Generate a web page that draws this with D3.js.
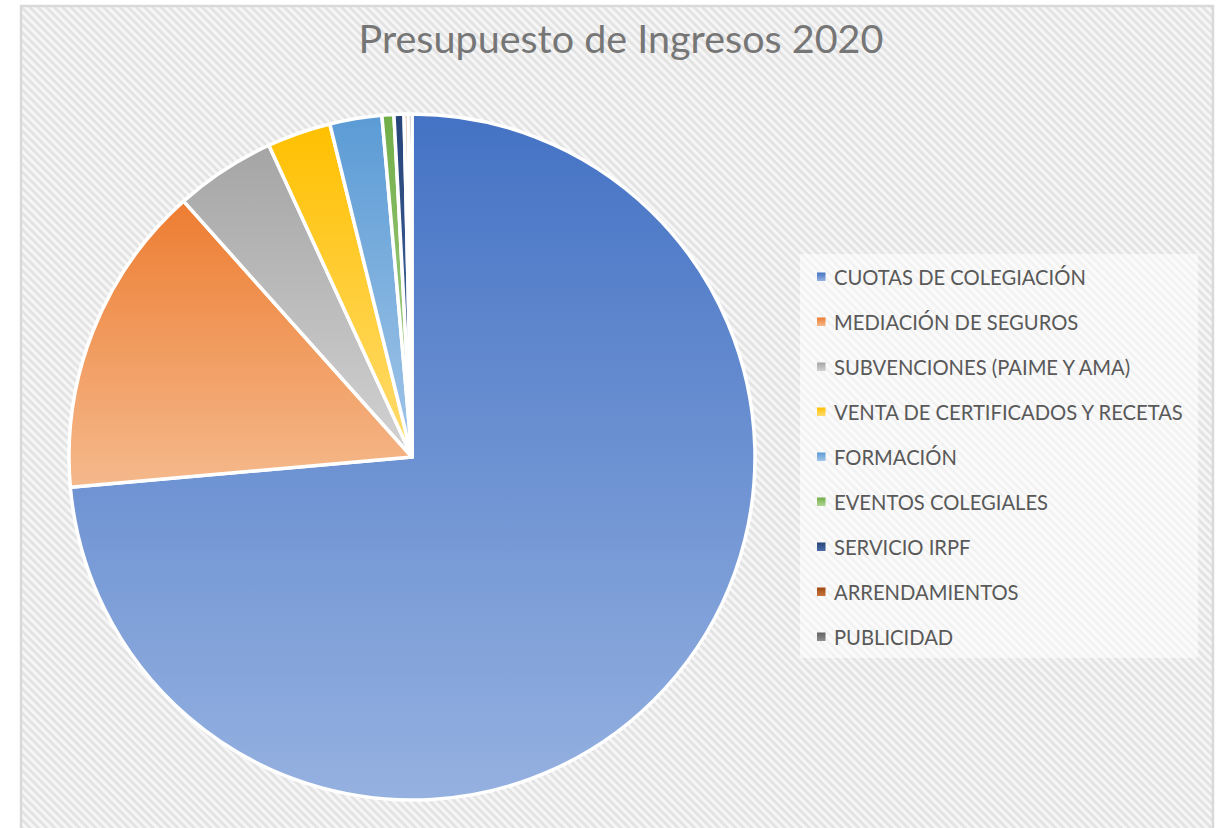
<!DOCTYPE html>
<html>
<head>
<meta charset="utf-8">
<script src="https://cdn.jsdelivr.net/npm/d3@7"></script>
<style>
  body { margin: 0; background: #ffffff; }
  svg { display: block; }
</style>
</head>
<body>
<div id="chart"></div>
<script>
// Datos (porcentaje del presupuesto)
const categories = [
    "CUOTAS DE COLEGIACIÓN",
    "MEDIACIÓN DE SEGUROS",
    "SUBVENCIONES (PAIME Y AMA)",
    "VENTA DE CERTIFICADOS Y RECETAS",
    "FORMACIÓN",
    "EVENTOS COLEGIALES",
    "SERVICIO IRPF",
    "ARRENDAMIENTOS",
    "PUBLICIDAD"
];
const values = [73.6, 14.8, 4.75, 3.0, 2.45, 0.56, 0.47, 0.19, 0.18];
const baseColors = ["#4472c4", "#ed7d31", "#a5a5a5", "#ffc000", "#5b9bd5", "#70ad47", "#264478", "#9e480e", "#636363"];
const lightColors = ["#95b1e0", "#f5b98c", "#d2d2d2", "#ffdc70", "#a2c6e8", "#b0d695", "#4a6ba8", "#c9773f", "#8f8f8f"];

const width = 1225, height = 828;
const svg = d3.select("#chart").append("svg")
    .attr("width", width)
    .attr("height", height);

const defs = svg.append("defs");

// fondo rayado diagonal
const hatch = defs.append("pattern")
    .attr("id", "hatch")
    .attr("patternUnits", "userSpaceOnUse")
    .attr("width", 5.8)
    .attr("height", 5.8)
    .attr("patternTransform", "rotate(45)");
hatch.append("rect").attr("width", 5.8).attr("height", 5.8).attr("fill", "#f6f6f6");
hatch.append("rect").attr("width", 5.8).attr("height", 2.8).attr("fill", "#e3e3e3");

// gradientes por sector
categories.forEach((c, i) => {
    const g = defs.append("linearGradient")
        .attr("id", "grad" + i)
        .attr("x1", "0%").attr("y1", "0%")
        .attr("x2", "0%").attr("y2", "100%");
    g.append("stop").attr("offset", "0%").attr("stop-color", baseColors[i]);
    g.append("stop").attr("offset", "100%").attr("stop-color", lightColors[i]);
});

svg.append("rect")
    .attr("x", 21)
    .attr("y", 6)
    .attr("width", 1192)
    .attr("height", 840)
    .attr("fill", "url(#hatch)")
    .attr("stroke", "#d9d9d9")
    .attr("stroke-width", 2.5);

svg.append("text")
    .attr("x", 621)
    .attr("y", 53)
    .attr("text-anchor", "middle")
    .attr("fill", "#767676")
    .attr("font-family", "Lato, 'Open Sans', sans-serif")
    .attr("font-size", "39.5px")
    .text("Presupuesto de Ingresos 2020");

// Pie
const cx = 412, cy = 457, radius = 343;
const pie = d3.pie().sort(null).value(d => d.value);
const arc = d3.arc().innerRadius(0).outerRadius(radius);

const data = categories.map((c, i) => ({ name: c, value: values[i], idx: i }));

const pieG = svg.append("g")
    .attr("transform", `translate(${cx},${cy})`);

pieG.selectAll("path")
    .data(pie(data))
    .enter()
    .append("path")
    .attr("d", arc)
    .attr("fill", d => `url(#grad${d.data.idx})`)
    .attr("stroke", "#ffffff")
    .attr("stroke-width", 3.5)
    .attr("stroke-linejoin", "round");

// Leyenda
const legendX = 800, legendY = 254;
svg.append("rect")
    .attr("x", legendX)
    .attr("y", legendY)
    .attr("width", 398)
    .attr("height", 404)
    .attr("fill", "#ffffff")
    .attr("fill-opacity", 0.55);

const rowY = d3.scaleBand()
    .domain(categories)
    .range([legendY + 0.5, legendY + 0.5 + 45 * categories.length]);

const items = svg.selectAll("g.legend-item")
    .data(data)
    .enter()
    .append("g")
    .attr("class", "legend-item")
    .attr("transform", d => `translate(${legendX + 17},${rowY(d.name) + rowY.bandwidth() / 2})`);

items.append("rect")
    .attr("x", 0)
    .attr("y", -4.5)
    .attr("width", 8.5)
    .attr("height", 8.5)
    .attr("fill", d => `url(#grad${d.idx})`);

items.append("text")
    .attr("x", 17)
    .attr("y", 7.5)
    .attr("fill", "#595959")
    .attr("font-family", "Lato, 'Open Sans', sans-serif")
    .attr("font-size", "20.2px")
    .text(d => d.name);
</script>
</body>
</html>
